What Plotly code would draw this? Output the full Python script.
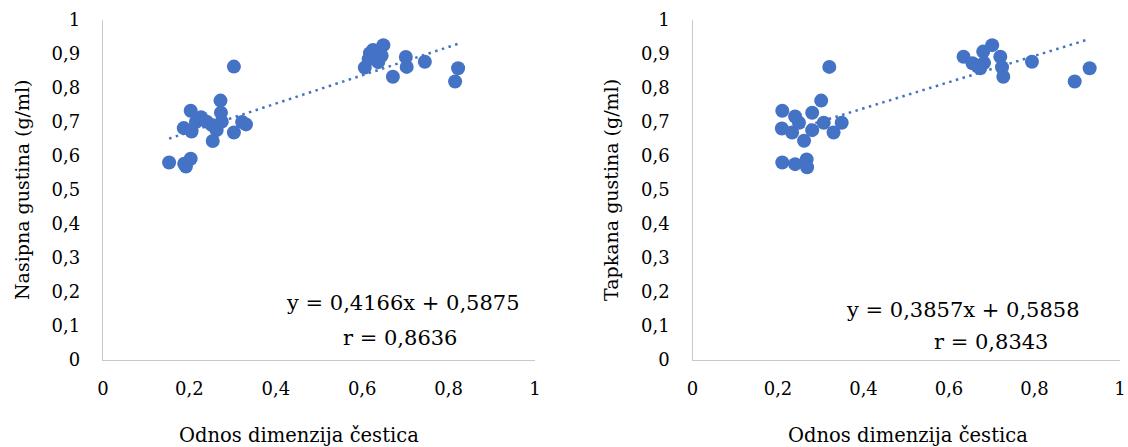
import plotly.graph_objects as go

# ---- data ----
x_left = [0.153, 0.188, 0.192, 0.203, 0.187, 0.203, 0.205, 0.215, 0.227, 0.240,
          0.252, 0.254, 0.263, 0.272, 0.273, 0.275, 0.303, 0.303, 0.322, 0.331,
          0.606, 0.615, 0.618, 0.625, 0.637, 0.649, 0.645, 0.671, 0.701, 0.703,
          0.745, 0.815, 0.822]
y_left = [0.581, 0.577, 0.569, 0.592, 0.682, 0.733, 0.672, 0.700, 0.714, 0.701,
          0.691, 0.644, 0.676, 0.763, 0.727, 0.701, 0.863, 0.669, 0.700, 0.693,
          0.860, 0.885, 0.902, 0.912, 0.876, 0.926, 0.895, 0.833, 0.891, 0.862,
          0.877, 0.819, 0.858]

x_right = [0.210, 0.240, 0.209, 0.233, 0.249, 0.261, 0.280, 0.280, 0.301, 0.307,
           0.330, 0.349, 0.210, 0.240, 0.267, 0.268, 0.320, 0.634, 0.655, 0.680,
           0.701, 0.682, 0.673, 0.667, 0.720, 0.724, 0.727, 0.794, 0.894, 0.929]
y_right = [0.733, 0.716, 0.681, 0.669, 0.698, 0.645, 0.727, 0.676, 0.763, 0.698,
           0.669, 0.698, 0.581, 0.576, 0.590, 0.567, 0.862, 0.892, 0.873, 0.907,
           0.926, 0.874, 0.858, 0.864, 0.892, 0.861, 0.833, 0.877, 0.819, 0.858]

slopes = [0.4166, 0.3857]
intercepts = [0.5875, 0.5858]
equations = ["y = 0,4166x + 0,5875", "y = 0,3857x + 0,5858"]
r_labels = ["r = 0,8636", "r = 0,8343"]
y_titles = ["Nasipna gustina (g/ml)", "Tapkana gustina (g/ml)"]
x_title = "Odnos dimenzija čestica"

BLUE = "#4472C4"
FONT = "DejaVu Serif"
W, H = 1128, 447

fig = go.Figure()

panels = [(x_left, y_left, "x", "y"), (x_right, y_right, "x2", "y2")]
for i, (xs, ys, xa, ya) in enumerate(panels):
    fig.add_trace(go.Scatter(x=xs, y=ys, mode="markers", xaxis=xa, yaxis=ya,
                             marker=dict(size=14, color=BLUE, line=dict(width=0)),
                             showlegend=False, hoverinfo="skip", cliponaxis=False))
    x0, x1 = min(xs), max(xs)
    fig.add_trace(go.Scatter(x=[x0, x1],
                             y=[slopes[i] * x0 + intercepts[i], slopes[i] * x1 + intercepts[i]],
                             mode="lines", xaxis=xa, yaxis=ya,
                             line=dict(color=BLUE, width=2.5, dash="2.5px,4.5px"),
                             showlegend=False, hoverinfo="skip"))

ydom = [1 - 360 / H, 1 - 20 / H]
axis_common = dict(range=[0, 1], showgrid=False, zeroline=False, showline=True,
                   linecolor="#C8C8C8", linewidth=1.3, ticks="", automargin=False,
                   tickfont=dict(family=FONT, size=18, color="#000"))

fig.update_layout(
    width=W, height=H, margin=dict(l=0, r=0, t=0, b=0, autoexpand=False),
    paper_bgcolor="white", plot_bgcolor="white",
    separators=", ",
    xaxis=dict(domain=[103 / W, 535 / W], dtick=0.2, ticklabelstandoff=12, anchor="y", **axis_common),
    yaxis=dict(domain=ydom, dtick=0.1, ticklabelstandoff=18, anchor="x", **axis_common),
    xaxis2=dict(domain=[692.5 / W, 1120 / W], dtick=0.2, ticklabelstandoff=12, anchor="y2", **axis_common),
    yaxis2=dict(domain=ydom, dtick=0.1, ticklabelstandoff=18, anchor="x2", **axis_common),
)

ann_font = dict(family=FONT, size=21, color="#000")
x_title_font = dict(family=FONT, size=19.5, color="#000")
y_title_font = dict(family=FONT, size=19, color="#000")
eq_pos = [((403, 303), (400, 338)), ((963, 310), (991, 342))]
xt_pos = [299, 908]
yt_pos = [22, 611]
for i in range(2):
    (ex, ey), (rx, ry) = eq_pos[i]
    fig.add_annotation(x=ex / W, y=1 - ey / H, xref="paper", yref="paper", text=equations[i],
                       showarrow=False, font=ann_font, xanchor="center", yanchor="middle")
    fig.add_annotation(x=rx / W, y=1 - ry / H, xref="paper", yref="paper", text=r_labels[i],
                       showarrow=False, font=ann_font, xanchor="center", yanchor="middle")
    fig.add_annotation(x=xt_pos[i] / W, y=1 - 435 / H, xref="paper", yref="paper", text=x_title,
                       showarrow=False, font=x_title_font, xanchor="center", yanchor="middle")
    fig.add_annotation(x=yt_pos[i] / W, y=1 - 190 / H, xref="paper", yref="paper", text=y_titles[i],
                       showarrow=False, font=y_title_font, textangle=-90,
                       xanchor="center", yanchor="middle")

fig.write_html("out.html", config={"displayModeBar": False},
               post_script="document.body.style.margin='0';document.body.style.overflow='hidden';")
